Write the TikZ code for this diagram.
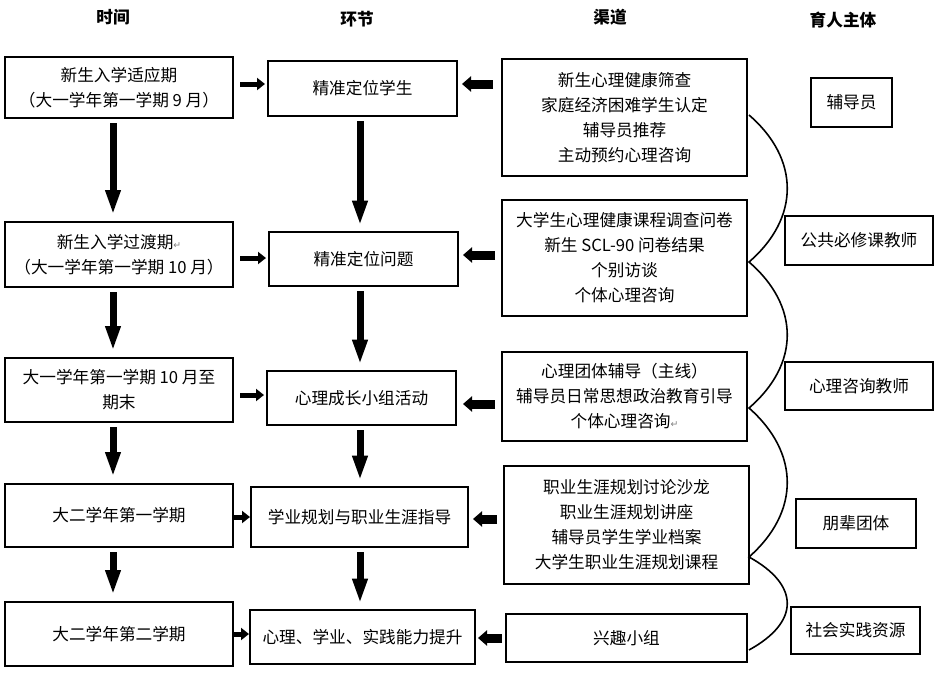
\documentclass[tikz,border=0pt]{standalone}
\usepackage{fontspec}
\setmainfont{Noto Sans CJK SC}
\newfontfamily\symf{DejaVu Sans}
\usetikzlibrary{arrows.meta,calc}
\tikzset{
 box/.style={draw, line width=1.5pt, inner sep=0pt, align=center, font=\fontsize{12.5}{18.75}\selectfont},
 hdr/.style={font=\fontsize{12.5}{15}\selectfont\bfseries},
 varrow/.style={line width=5.25pt, -{Triangle[width=10.5pt,length=18.75pt]}},
 rarrow/.style={line width=3.75pt, -{Triangle[width=9pt,length=6pt]}},
 larrow/.style={line width=6.75pt, -{Triangle[width=11.25pt,length=6.75pt]}},
 brace/.style={line width=1.2pt},
}
\newcommand\bx[6]{\node[box, minimum width={(#4-#2)*0.75pt}, minimum height={(#5-#3)*0.75pt}] (#1) at ({(#2+#4)/2},{(#3+#5)/2}) {#6};}
\newcommand\retmark{{\symf\color{gray}\fontsize{7}{7}\selectfont ↵}}
\begin{document}
\begin{tikzpicture}[x=0.75pt,y=-0.75pt]
\fill[white] (0,0) rectangle (940,678);
\useasboundingbox (0,0) rectangle (940,678);
% headers
\node[hdr] (h1) at (113,17) {时间};
\node[hdr] (h2) at (357,19) {环节};
\node[hdr] (h3) at (610,17) {渠道};
\node[hdr] (h4) at (843,20) {育人主体};
% time column
\bx{t1}{5}{57}{233}{118}{新生入学适应期\\（大一学年第一学期 9 月）}
\bx{t2}{5}{222}{233}{287}{新生入学过渡期\retmark\\（大一学年第一学期 10 月）}
\bx{t3}{5}{358}{233}{422}{大一学年第一学期 10 月至\\期末}
\bx{t4}{5}{484}{233}{547}{大二学年第一学期}
\bx{t5}{5}{602}{233}{666}{大二学年第二学期}
% stage column
\bx{s1}{268}{61}{457}{116}{精准定位学生}
\bx{s2}{269}{232}{458}{286}{精准定位问题}
\bx{s3}{267}{371}{456}{425}{心理成长小组活动}
\bx{s4}{251}{487}{468}{547}{学业规划与职业生涯指导}
\bx{s5}{250}{610}{475}{664}{心理、学业、实践能力提升}
% channel column
\bx{c1}{502}{59}{747}{176}{新生心理健康筛查\\家庭经济困难学生认定\\辅导员推荐\\主动预约心理咨询}
\bx{c2}{502}{200}{747}{316}{大学生心理健康课程调查问卷\\新生 SCL-90 问卷结果\\个别访谈\\个体心理咨询}
\bx{c3}{502}{352}{747}{441}{心理团体辅导（主线）\\辅导员日常思想政治教育引导\\个体心理咨询\retmark}
\bx{c4}{504}{466}{749}{584}{职业生涯规划讨论沙龙\\职业生涯规划讲座\\辅导员学生学业档案\\大学生职业生涯规划课程}
\bx{c5}{506}{614}{747}{662}{兴趣小组}
% subject column
\bx{a1}{811}{78}{892}{127}{辅导员}
\bx{a2}{785}{216}{933}{265}{公共必修课教师}
\bx{a3}{785}{362}{933}{410}{心理咨询教师}
\bx{a4}{796}{499}{916}{548}{朋辈团体}
\bx{a5}{791}{607}{920}{654}{社会实践资源}
% vertical arrows
\coordinate (xt) at (113,0);
\coordinate (xs) at (360,0);
\foreach \a/\b in {t1/t2,t2/t3,t3/t4,t4/t5}
  \draw[varrow, shorten <=3pt, shorten >=4.5pt] (\a.south -| xt) -- (\b.north -| xt);
\foreach \a/\b in {s1/s2,s2/s3,s3/s4,s4/s5}
  \draw[varrow, shorten <=3pt, shorten >=4pt] (\a.south -| xs) -- (\b.north -| xs);
% time -> stage arrows
\draw[rarrow, shorten <=4.5pt, shorten >=1.5pt] ($(t1.east)+(0,-3.5)$) -- ($(t1.east -| s1.west)+(0,-3.5)$);
\draw[rarrow, shorten <=4.5pt, shorten >=1.5pt] ($(t2.east)+(0,3.5)$) -- ($(t2.east -| s2.west)+(0,3.5)$);
\draw[rarrow, shorten <=4.5pt, shorten >=1.5pt] ($(t3.east)+(0,5)$) -- ($(t3.east -| s3.west)+(0,5)$);
\draw[rarrow] ($(t4.east)+(0,1.5)$) -- ($(t4.east -| s4.west)+(0,1.5)$);
\draw[rarrow] (t5.east) -- (t5.east -| s5.west);
% channel -> stage arrows
\draw[larrow, shorten <=6pt, shorten >=3pt] ($(s1.east -| c1.west)+(0,-4.5)$) -- ($(s1.east)+(0,-4.5)$);
\draw[larrow, shorten <=4.5pt, shorten >=3pt] ($(s2.east -| c2.west)+(0,-4)$) -- ($(s2.east)+(0,-4)$);
\draw[larrow, shorten <=4.5pt, shorten >=4.5pt] ($(s3.east -| c3.west)+(0,6)$) -- ($(s3.east)+(0,6)$);
\draw[larrow, shorten <=4.5pt, shorten >=3pt] ($(s4.east -| c4.west)+(0,2)$) -- ($(s4.east)+(0,2)$);
\draw[larrow, shorten <=2.25pt, shorten >=1.5pt] ($(s5.east -| c5.west)+(0,1)$) -- ($(s5.east)+(0,1)$);
% brace-like curve
\coordinate (k1) at ($(c1.east)+(1,-2.5)$);
\coordinate (k2) at ($(c2.east)+(1,4)$);
\coordinate (k3) at ($(c3.east)+(1,11.5)$);
\coordinate (k4) at ($(c4.east)+(-1,32)$);
\coordinate (k5) at ($(c5.east)+(1,12)$);
\draw[brace] (k1) .. controls +(51,44) and +(51,-44) .. (k2)
  .. controls +(51,44) and +(51,-44) .. (k3)
  .. controls +(51,45) and +(51,-45) .. (k4)
  .. controls +(51,28) and +(51,-28) .. (k5);
\end{tikzpicture}
\end{document}
